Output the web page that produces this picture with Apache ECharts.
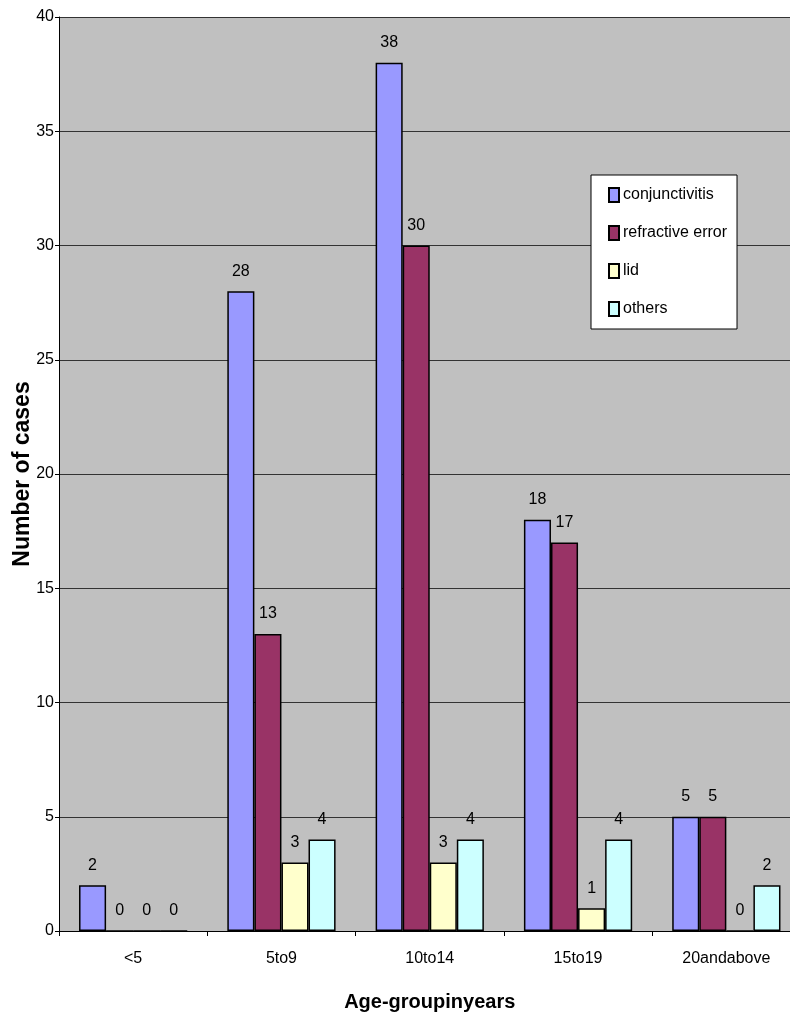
<!DOCTYPE html>
<html>
<head>
<meta charset="utf-8">
<script src="https://cdn.jsdelivr.net/npm/echarts@6/dist/echarts.min.js"></script>
<style>
  html, body { margin: 0; padding: 0; background: #ffffff; overflow: hidden; }
  #chart { width: 790px; height: 1016px; }
</style>
</head>
<body>
<div id="chart"></div>
<script>
// Age groups on the category axis
const ageGroups = ['<5', '5to9', '10to14', '15to19', '20andabove'];

// Number of cases per diagnosis in each age group
const conjunctivitis = [2, 28, 38, 18, 5];
const refractiveError = [0, 13, 30, 17, 5];
const lid = [0, 3, 3, 1, 0];
const others = [0, 4, 4, 4, 2];

const seriesNames = ['conjunctivitis', 'refractive error', 'lid', 'others'];
const seriesColors = ['#9999FF', '#993366', '#FFFFCC', '#CCFFFF'];
const seriesData = [conjunctivitis, refractiveError, lid, others];

const FONT = 'Liberation Sans, Arial, sans-serif';

const chart = echarts.init(document.getElementById('chart'), null, { renderer: 'canvas' });

chart.setOption({
  animation: false,
  backgroundColor: '#ffffff',
  textStyle: { fontFamily: FONT },
  // plot area runs slightly past the right edge of the page
  grid: {
    left: 59,
    top: 17,
    width: 741.5,
    bottom: 85,
    outerBoundsMode: 'none',
    containLabel: false,
    show: true,
    backgroundColor: '#C0C0C0',
    borderWidth: 0
  },
  legend: {
    orient: 'vertical',
    left: 591,
    top: 175,
    backgroundColor: '#ffffff',
    borderColor: '#000000',
    borderWidth: 1,
    borderRadius: 0,
    padding: [12, 10, 12, 17],
    itemWidth: 10,
    itemHeight: 14,
    itemGap: 22,
    icon: 'rect',
    textStyle: { fontFamily: FONT, fontSize: 16, color: '#000', padding: [1, 0, 0, -1] },
    data: seriesNames
  },
  xAxis: {
    type: 'category',
    data: ageGroups,
    name: 'Age-groupinyears',
    nameLocation: 'middle',
    nameGap: 61,
    nameMoveOverlap: false,
    nameTextStyle: { fontFamily: FONT, fontSize: 20, fontWeight: 'bold', color: '#000' },
    axisLine: { lineStyle: { color: '#000', width: 1 } },
    axisTick: { show: true, length: 5, lineStyle: { color: '#000' } },
    axisLabel: { fontFamily: FONT, fontSize: 16, color: '#000', margin: 20 },
    splitLine: { show: false }
  },
  yAxis: {
    type: 'value',
    min: 0,
    max: 40,
    interval: 5,
    name: 'Number of cases',
    nameLocation: 'middle',
    nameGap: 25,
    nameMoveOverlap: false,
    nameTextStyle: { fontFamily: FONT, fontSize: 23, fontWeight: 'bold', color: '#000' },
    axisLine: { show: true, lineStyle: { color: '#000', width: 1 } },
    axisTick: { show: true, length: 4, lineStyle: { color: '#000' } },
    axisLabel: { fontFamily: FONT, fontSize: 16, color: '#000', margin: 5 },
    splitLine: { show: true, lineStyle: { color: '#333', width: 1 } }
  },
  series: seriesNames.map((name, i) => ({
    name: name,
    type: 'bar',
    data: seriesData[i],
    barGap: '0%',
    barCategoryGap: '27%',
    itemStyle: { color: seriesColors[i], borderColor: '#000', borderWidth: 1.5 },
    label: {
      show: true,
      position: 'top',
      distance: 12,
      fontFamily: FONT,
      fontSize: 16,
      color: '#000'
    }
  }))
});
</script>
</body>
</html>
